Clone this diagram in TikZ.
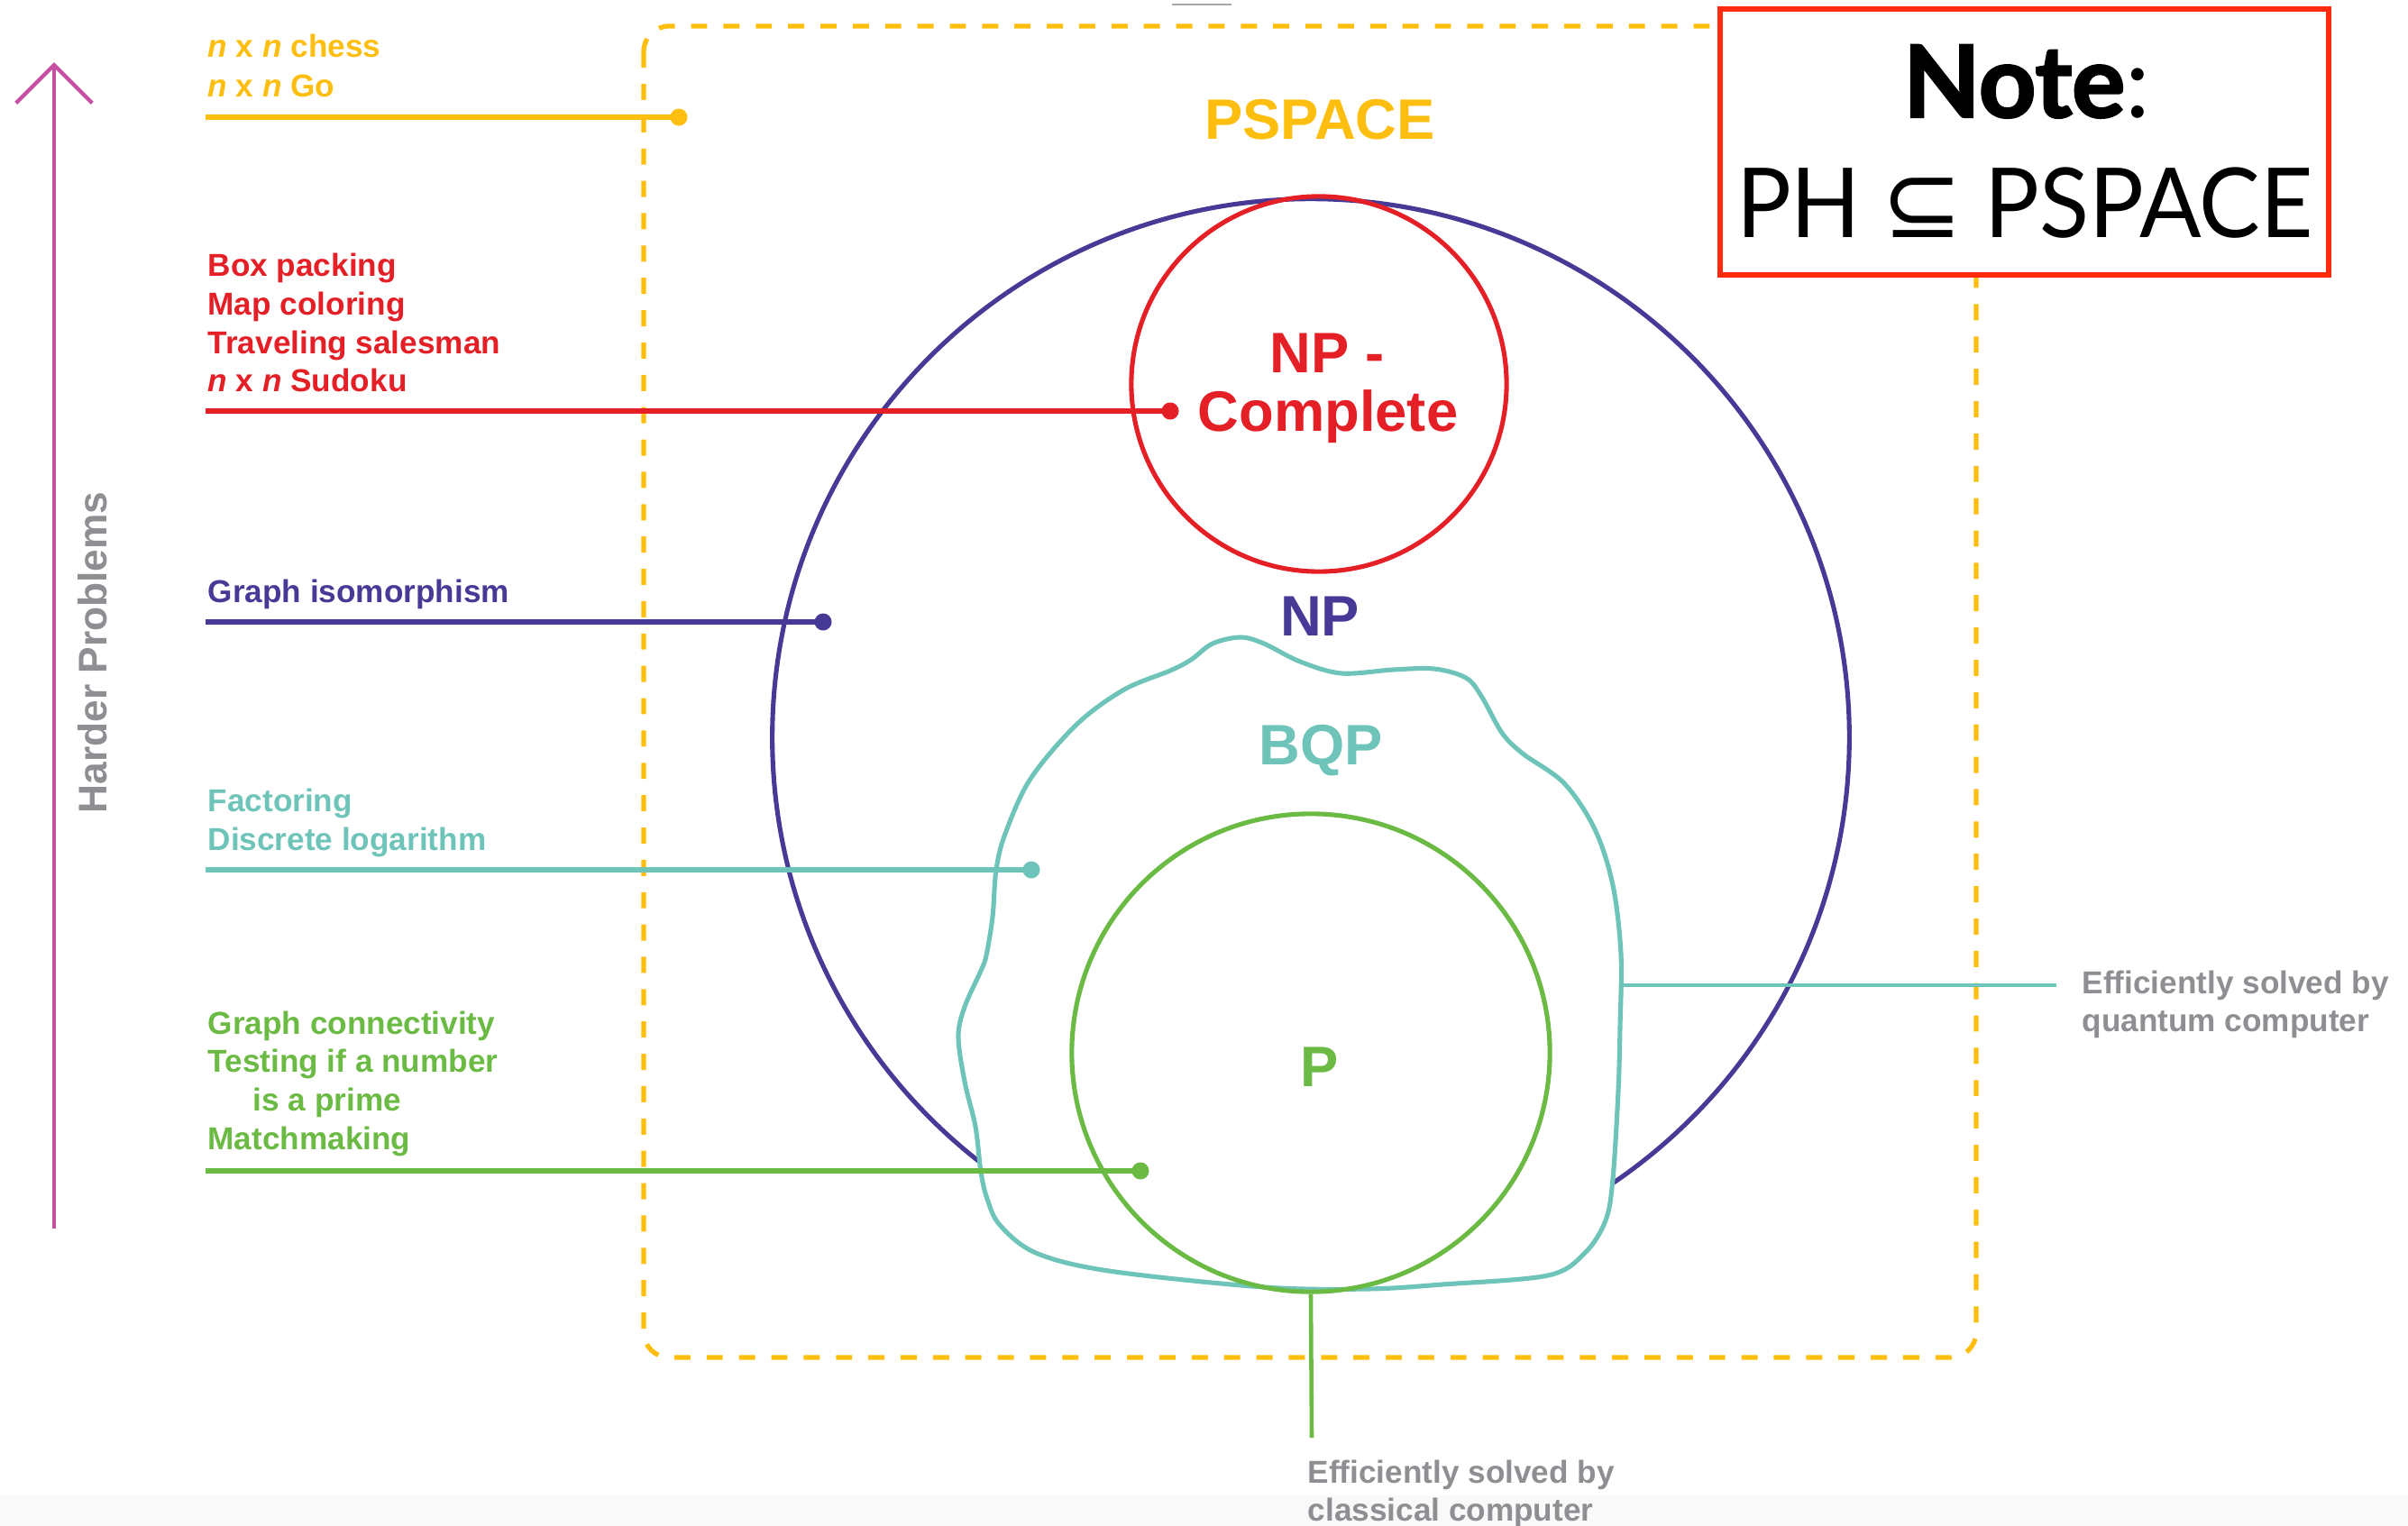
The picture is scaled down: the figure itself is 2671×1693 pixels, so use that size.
\documentclass[tikz,border=0pt]{standalone}
\usepackage{fontspec}
\setmainfont{Liberation Sans}
\newfontfamily\notefont{Lato}
\newfontfamily\notenarrow{Lato}[FakeStretch=0.945]
\newfontfamily\symfont{DejaVu Sans}
\usetikzlibrary{arrows.meta}
\definecolor{cyel}{HTML}{FDBE10}
\definecolor{cred}{HTML}{E41F26}
\definecolor{cind}{HTML}{463A96}
\definecolor{cteal}{HTML}{6EC4B9}
\definecolor{cgrn}{HTML}{6BBA43}
\definecolor{cmag}{HTML}{C4509F}
\definecolor{cgray}{HTML}{8E8E93}
\definecolor{cnote}{HTML}{FF2B0C}
\begin{document}
\begin{tikzpicture}[x=0.01cm,y=-0.01cm,
  conn/.style={line width=1.65pt},
  thinconn/.style={line width=1.3pt},
  ring/.style={circle, draw, line width=1.45pt, inner sep=0pt},
  dot/.style={circle, inner sep=0pt, minimum size=0.19cm},
  lbl/.style={inner sep=0pt, anchor=base west, font=\fontsize{10}{12}\selectfont\bfseries},
  glbl/.style={inner sep=0pt, anchor=base west, text=cgray, font=\fontsize{10}{12}\selectfont\bfseries},
  big/.style={inner sep=0pt, anchor=base, font=\fontsize{18}{20}\selectfont\bfseries}]

\useasboundingbox (0,0) rectangle (2671,1693);
\fill[gray!5] (0,1659) rectangle (2671,1693);
\draw[gray!70, line width=0.6pt] (1300,5) -- (1366,5);

% PSPACE dashed frame
\draw[cyel, line width=1.5pt, dash pattern=on 5.1pt off 5.1pt, rounded corners=8pt] (714,29) rectangle (2192,1506);

% classes
\node[ring, draw=cind, minimum size=11.94cm] (np) at (1454,818) {};
\node[ring, draw=cred, minimum size=4.16cm] (npc) at (1463,426) {};
\filldraw[fill=white, draw=cteal, line width=1.45pt] plot[smooth cycle, tension=0.55] coordinates {
 (1376,707) (1402,714) (1442,734) (1488,747) (1545,743) (1591,742) (1626,752) (1643,772)
 (1666,813) (1689,836) (1735,869) (1769,920) (1789,982) (1798,1058) (1797,1140) (1795,1211)
 (1789,1308) (1781,1354) (1758,1390) (1717,1415) (1600,1425) (1517,1430) (1402,1428)
 (1230,1410) (1149,1390) (1109,1359) (1095,1330) (1088,1300) (1082,1250) (1070,1200)
 (1063,1150) (1070,1117) (1088,1077) (1094,1060) (1101,1017) (1105,965) (1115,925)
 (1143,864) (1195,803) (1247,765) (1298,744) (1321,732) (1345,714)};
\node[ring, draw=cgrn, minimum size=5.30cm] (p) at (1454,1168) {};

% arrow
\coordinate (abot) at (60,1363);
\coordinate (atop) at (60,69);
\draw[cmag, line width=1.25pt, -{Straight Barb[length=12pt, width=24pt, line width=1.25pt]}] (abot) -- (atop);
\node[inner sep=0pt, anchor=base, rotate=90, text=cgray, font=\fontsize{12.6}{14}\selectfont\bfseries] (hp) at (118,724) {Harder Problems};

% connectors
\coordinate (sy) at (228,130);
\node[dot, fill=cyel] (dy) at (753,130) {};
\draw[conn, cyel] (sy) -- (dy.center);
\coordinate (sr) at (228,456);
\node[dot, fill=cred] (dr) at (1298,456) {};
\draw[conn, cred] (sr) -- (dr.center);
\coordinate (si) at (228,690);
\node[dot, fill=cind] (di) at (913,690) {};
\draw[conn, cind] (si) -- (di.center);
\coordinate (st) at (228,965);
\node[dot, fill=cteal] (dt) at (1144,965) {};
\draw[conn, cteal] (st) -- (dt.center);
\coordinate (sg) at (228,1299);
\node[dot, fill=cgrn] (dg) at (1265,1299) {};
\draw[conn, cgrn] (sg) -- (dg.center);
\coordinate (bqpR) at (1798,1093);
\coordinate (qend) at (2281,1093);
\draw[thinconn, cteal] (bqpR) -- (qend);
\coordinate (pend) at (1455,1595);
\draw[thinconn, cgrn] (p.south) -- (pend);

% left labels
\node[lbl, text=cyel] (y1) at (230,63) {\textit{n} x \textit{n} chess};
\node[lbl, text=cyel] (y2) at (230,107) {\textit{n} x \textit{n} Go};
\node[lbl, text=cred] (r1) at (230,306) {Box packing};
\node[lbl, text=cred] (r2) at (230,349) {Map coloring};
\node[lbl, text=cred] (r3) at (230,392) {Traveling salesman};
\node[lbl, text=cred] (r4) at (230,434) {\textit{n} x \textit{n} Sudoku};
\node[lbl, text=cind] (i1) at (230,668) {Graph isomorphism};
\node[lbl, text=cteal] (t1) at (230,900) {Factoring};
\node[lbl, text=cteal] (t2) at (230,943) {Discrete logarithm};
\node[lbl, text=cgrn] (g1) at (230,1147) {Graph connectivity};
\node[lbl, text=cgrn] (g2) at (230,1189) {Testing if a number};
\node[lbl, text=cgrn] (g3) at (280,1232) {is a prime};
\node[lbl, text=cgrn] (g4) at (230,1275) {Matchmaking};

% class labels
\node[big, text=cyel] (lps) at (1464,154) {PSPACE};
\node[big, text=cred] (lnpc1) at (1472,413) {NP -};
\node[big, text=cred] (lnpc2) at (1473,478) {Complete};
\node[big, text=cind] (lnp) at (1464,705) {NP};
\node[big, text=cteal] (lbqp) at (1465,848) {BQP};
\node[big, text=cgrn] (lp) at (1464,1205) {P};

% gray labels
\node[glbl] (q1) at (2309,1102) {Efficiently solved by};
\node[glbl] (q2) at (2309,1144) {quantum computer};
\node[glbl] (c1) at (1450,1645) {Efficiently solved by};
\node[glbl] (c2) at (1450,1687) {classical computer};

% note box
\node[draw=cnote, line width=1.7pt, fill=white, minimum width=6.75cm, minimum height=2.95cm, inner sep=0pt] (note) at (2245.5,157.5) {};
\node[inner sep=0pt, anchor=base, font=\notefont\fontsize{31.5}{33}\selectfont] (notet) at (2248,130) {{\bfseries\addfontfeatures{FakeBold=2.2}Note}:};
\node[inner sep=0pt, anchor=base, font=\notenarrow\fontsize{30.5}{32}\selectfont] (pht) at (2246,263) {PH\hspace{0.22em}{\symfont ⊆}\hspace{0.22em}PSPACE};
\end{tikzpicture}
\end{document}
